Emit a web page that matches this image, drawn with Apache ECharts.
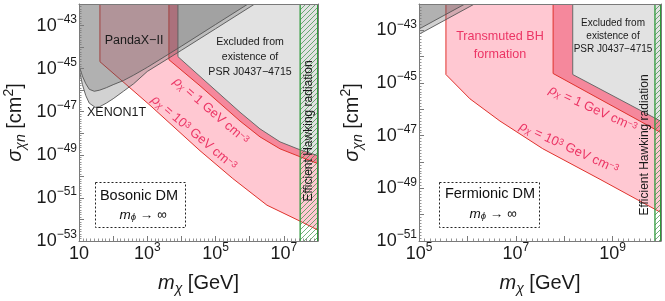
<!DOCTYPE html>
<html><head><meta charset="utf-8">
<script src="https://cdn.jsdelivr.net/npm/echarts@6/dist/echarts.min.js"></script>
<style>html,body{margin:0;padding:0;background:#fff}#c{width:665px;height:301px}</style>
</head><body><div id="c"></div>
<script>
// ---------------- data (mass in GeV, cross-section in cm^2) ----------------
const sigmaTop = 1e-42;
const bosonicMassRange = [10, 1e8];
const bosonicSigmaRange = [1e-53, 1e-42];
const fermionicMassRange = [1e5, 1e10];
const fermionicSigmaRange = [1e-51, 1e-42];

const xenonMass  = [10, 12.6, 15.8, 20, 30, 40, 63, 100, 200, 400, 1000, 1e4, 1e5, 1.4e6];
const xenonSigma = [1.0e-45, 1.8e-46, 5.6e-47, 2.5e-47, 1.6e-47, 1.7e-47, 2.5e-47, 4.0e-47, 8.9e-47, 2.0e-46, 7.4e-46, 7.1e-45, 7.1e-44, 1.0e-42];
const pandaxMass  = [10, 12.6, 15.8, 20, 28, 40, 63, 100, 200, 400, 1000, 1e4, 1e5, 8.9e5];
const pandaxSigma = [1.4e-45, 4.5e-46, 2.0e-46, 1.1e-46, 8.9e-47, 1.0e-46, 1.3e-46, 1.8e-46, 2.8e-46, 5.0e-46, 1.15e-45, 1.1e-44, 1.12e-43, 1.0e-42];

// Bosonic DM
const bosRho1e3Mass  = [41, 41, 1.2e3, 3.5e4, 3.2e5, 3.2e6, 3.0e7, 1e8];
const bosRho1e3Sigma = [1e-42, 2.1e-45, 2.0e-47, 1.55e-49, 7.9e-51, 4.6e-52, 8.3e-53, 3.2e-53];
const bosRho1Mass    = [4.3e3, 4.3e3, 3.5e4, 5.2e5, 2.0e6, 7.7e6, 3.0e7, 1e8];
const bosRho1Sigma   = [1e-42, 2.6e-45, 1.6e-46, 3.7e-48, 6.8e-49, 1.9e-49, 8.1e-50, 3.9e-50];
const bosPsrMass     = [7.9e3, 7.9e3, 5.2e5, 2.0e6, 7.7e6, 3.0e7, 1e8];
const bosPsrSigma    = [1e-42, 3.6e-45, 9.5e-48, 1.6e-48, 4.0e-49, 1.7e-49, 9.1e-50];
const bosHawkingMass = 3.0e7;

// Fermionic DM
const ferRho1e3Mass  = [3.6e5, 3.6e5, 1.13e6, 4.7e6, 3.6e7, 5.5e8, 1e10];
const ferRho1e3Sigma = [1e-42, 2.1e-45, 2.5e-46, 3.6e-47, 3.2e-48, 2.2e-49, 1.2e-50];
const ferRho1Mass    = [5.9e7, 5.9e7, 1e10];
const ferRho1Sigma   = [1e-42, 2.3e-45, 1.3e-47];
const ferPsrMass     = [1.5e8, 1.5e8, 1e10];
const ferPsrSigma    = [1e-42, 2.1e-45, 3.5e-47];
const ferHawkingMass = 7.5e9;

// ---------------- helpers ----------------
const L = Math.log10;
const FF = '"Liberation Sans", Arial, sans-serif';
const pts = (ms, ss) => ms.map((m, i) => [L(m), L(ss[i])]);

const PINK_L = '#ffc8d2', PINK_D = '#f5889c', RED = '#e0322c', PSR = '#e2e2e2';
const GRAYFILL = 'rgba(90,90,90,0.27)', GRAYLINE = '#555';
const TXTPINK = '#ec3565';

function region(axis, poly, edge, fill, stroke, lw, z) {
  return {
    type: 'custom', xAxisIndex: axis, yAxisIndex: axis, clip: true, silent: true, z: z,
    data: [[0, 0]],
    renderItem: function (params, api) {
      const P = poly.map(p => api.coord(p));
      const ch = [{ type: 'polygon', shape: { points: P }, style: { fill: fill } }];
      if (edge) {
        ch.push({ type: 'polyline', shape: { points: edge.map(p => api.coord(p)) },
                  style: { fill: 'none', stroke: stroke, lineWidth: lw } });
      }
      return { type: 'group', children: ch };
    }
  };
}
function withTopClose(ms, ss) {
  const b = pts(ms, ss);
  return { poly: b.concat([[L(ms[ms.length - 1]), L(sigmaTop)]]), edge: b };
}
function leftClose(ms, ss, xmin) {
  const b = pts(ms, ss);
  return { poly: b.concat([[L(xmin), L(sigmaTop)]]), edge: b };
}

// hatch pattern
const pc = document.createElement('canvas'); pc.width = 5; pc.height = 5;
const g = pc.getContext('2d');
g.strokeStyle = 'rgba(45,140,60,0.85)'; g.lineWidth = 0.8;
g.beginPath(); g.moveTo(0, 5); g.lineTo(5, 0); g.moveTo(-1, 1); g.lineTo(1, -1); g.moveTo(4, 6); g.lineTo(6, 4); g.stroke();
const hatchFill = { image: pc, repeat: 'repeat' };

function hawking(axis, m, xr, yr) {
  return {
    type: 'custom', xAxisIndex: axis, yAxisIndex: axis, clip: true, silent: true, z: 8,
    data: [[0, 0]],
    renderItem: function (params, api) {
      const a = api.coord([L(m), L(yr[1])]), b = api.coord([L(xr[1]), L(yr[0])]);
      return { type: 'group', children: [
        { type: 'rect', shape: { x: a[0], y: a[1], width: b[0] - a[0], height: b[1] - a[1] },
          style: { fill: hatchFill } },
        { type: 'line', shape: { x1: a[0], y1: a[1], x2: a[0], y2: b[1] },
          style: { stroke: '#2f9a3a', lineWidth: 1.3 } },
        { type: 'line', shape: { x1: b[0] - 0.5, y1: a[1], x2: b[0] - 0.5, y2: b[1] },
          style: { stroke: '#2f9a3a', lineWidth: 1 } }
      ] };
    }
  };
}

// ---------------- axes ----------------
const AX = '#7a7a7a';
const tickRich = {
  b: { fontSize: 18, lineHeight: 24, fontFamily: FF, color: '#1a1a1a' },
  s: { fontSize: 12, lineHeight: 12, verticalAlign: 'top', fontFamily: FF, color: '#1a1a1a' }
};
function tickFmt(v) {
  const n = Math.round(v);
  if (Math.abs(v - n) > 1e-6 || n % 2 === 0) return '';
  if (n === 1) return '{b|10}';
  return '{b|10}{s|' + (n < 0 ? '\u2212' + (-n) : n) + '}';
}
const nameRich = {
  n: { fontSize: 20, lineHeight: 26, fontFamily: FF, color: '#1a1a1a' },
  i: { fontSize: 20, lineHeight: 26, fontFamily: FF, fontStyle: 'italic', color: '#1a1a1a' },
  sub: { fontSize: 14, lineHeight: 14, verticalAlign: 'bottom', fontFamily: FF, fontStyle: 'italic', color: '#1a1a1a' },
  sup: { fontSize: 14, lineHeight: 14, verticalAlign: 'top', fontFamily: FF, color: '#1a1a1a' }
};
function mainAxis(grid, range, pos, name, gap) {
  return {
    gridIndex: grid, type: 'value', min: L(range[0]), max: L(range[1]), interval: 1, position: pos, z: 10,
    axisLine: { show: true, onZero: false, lineStyle: { color: AX, width: 1 } },
    axisTick: { show: true, inside: true, length: 5, lineStyle: { color: AX, width: 1 } },
    minorTick: { show: true, splitNumber: 9, length: 2.5, lineStyle: { color: AX, width: 0.8 } },
    splitLine: { show: false },
    axisLabel: { interval: 0, margin: pos === 'left' ? 2 : 1, formatter: tickFmt, rich: tickRich, hideOverlap: false,
                 showMinLabel: true, showMaxLabel: true },
    name: name, nameLocation: 'middle', nameGap: gap,
    nameTextStyle: { rich: nameRich }
  };
}
function frameAxis(grid, range, pos) {
  return {
    gridIndex: grid, type: 'value', min: L(range[0]), max: L(range[1]), position: pos, z: 10,
    axisLine: { show: true, onZero: false, lineStyle: { color: AX, width: 1 } },
    axisTick: { show: false }, axisLabel: { show: false }, splitLine: { show: false }
  };
}
const xName = '{i|m}{sub|\u03c7}{n| [GeV]}';
const yName = '{i|\u03c3}{sub|\u03c7n}{n| [cm}{sup|2}{n|]}';

// ---------------- regions ----------------
const xen = leftClose(xenonMass, xenonSigma, bosonicMassRange[0]);
const pan = leftClose(pandaxMass, pandaxSigma, bosonicMassRange[0]);
const bR3 = withTopClose(bosRho1e3Mass, bosRho1e3Sigma);
const bR1 = withTopClose(bosRho1Mass, bosRho1Sigma);
const bPs = withTopClose(bosPsrMass, bosPsrSigma);
const fR3 = withTopClose(ferRho1e3Mass, ferRho1e3Sigma);
const fR1 = withTopClose(ferRho1Mass, ferRho1Sigma);
const fPs = withTopClose(ferPsrMass, ferPsrSigma);

const series = [
  region(0, bR3.poly, bR3.edge, PINK_L, RED, 1, 2),
  region(0, bR1.poly, bR1.edge, PINK_D, RED, 1, 3),
  region(0, bPs.poly, bPs.edge, PSR, '#6a6a6a', 1, 4),
  region(0, xen.poly, xen.edge, GRAYFILL, GRAYLINE, 0.9, 5),
  region(0, pan.poly, pan.edge, GRAYFILL, GRAYLINE, 0.9, 6),
  hawking(0, bosHawkingMass, bosonicMassRange, bosonicSigmaRange),
  region(2, fR3.poly, fR3.edge, PINK_L, RED, 1, 2),
  region(2, fR1.poly, fR1.edge, PINK_D, RED, 1, 3),
  region(2, fPs.poly, fPs.edge, PSR, '#6a6a6a', 1, 4),
  region(2, xen.poly, xen.edge, GRAYFILL, GRAYLINE, 0.9, 5),
  region(2, pan.poly, pan.edge, GRAYFILL, GRAYLINE, 0.9, 6),
  hawking(2, ferHawkingMass, fermionicMassRange, fermionicSigmaRange)
];

// ---------------- annotations ----------------
const rhoRich = {
  n: { fontSize: 13, fontFamily: FF, fill: TXTPINK },
  i: { fontSize: 13, fontFamily: FF, fontStyle: 'italic', fill: TXTPINK },
  sub: { fontSize: 9, lineHeight: 9, verticalAlign: 'bottom', fontFamily: FF, fontStyle: 'italic', fill: TXTPINK },
  sup: { fontSize: 9, lineHeight: 9, verticalAlign: 'top', fontFamily: FF, fill: TXTPINK }
};
const rho1Txt = '{i|\u03c1}{sub|\u03c7}{n| = 1 GeV cm}{sup|\u22123}';
const rho3Txt = '{i|\u03c1}{sub|\u03c7}{n| = 10}{sup|3}{n| GeV cm}{sup|\u22123}';
const boxRich = {
  n: { fontSize: 14.5, fontFamily: FF, fill: '#111' },
  m: { fontSize: 13.5, fontFamily: FF, fontStyle: 'italic', fill: '#111' },
  sub: { fontSize: 9.5, lineHeight: 9, verticalAlign: 'bottom', fontFamily: FF, fontStyle: 'italic', fill: '#111' },
  r: { fontSize: 13.5, fontFamily: FF, fill: '#111' }
};
function T(x, y, text, size, color, extra) {
  return Object.assign({ type: 'text', x: x, y: y, z: 20, silent: true,
    style: { text: text, fill: color || '#1a1a1a', font: size + 'px ' + FF, align: 'center', verticalAlign: 'middle' } }, extra || {});
}
function RT(x, y, text, rich, rot) {
  return { type: 'text', x: x, y: y, z: 20, silent: true, rotation: rot || 0,
    style: { text: text, rich: rich, align: 'center', verticalAlign: 'middle' } };
}
const deg = Math.PI / 180;
const graphic = [
  // left panel
  T(134, 41, 'PandaX\u2212II', 12.5),
  T(87, 113, 'XENON1T', 12.5, '#1a1a1a', { style: { text: 'XENON1T', fill: '#1a1a1a', font: '12.5px ' + FF, align: 'left', verticalAlign: 'middle' } }),
  T(250, 42, 'Excluded from', 10.6),
  T(250, 57, 'existence of', 10.6),
  T(250, 72, 'PSR J0437\u22124715', 10.6),
  RT(211, 111, rho1Txt, rhoRich, -41 * deg),
  RT(194, 133, rho3Txt, rhoRich, -40.5 * deg),
  { type: 'rect', z: 20, silent: true, shape: { x: 95.5, y: 182.5, width: 90, height: 45 },
    style: { fill: 'none', stroke: '#222', lineWidth: 1, lineDash: [2, 2] } },
  RT(139, 196, '{n|Bosonic DM}', boxRich),
  RT(143, 215, '{m|m}{sub|\u03d5}{r| \u2192 \u221e}', boxRich),
  T(309, 131, 'Efficient Hawking radiation', 12, '#1a1a1a', { rotation: Math.PI / 2 }),
  // right panel
  T(500, 37, 'Transmuted BH', 12.6, TXTPINK),
  T(500, 55, 'formation', 12.6, TXTPINK),
  T(613, 23, 'Excluded from', 10),
  T(613, 36, 'existence of', 10),
  T(613, 49, 'PSR J0437\u22124715', 10),
  RT(593, 109, rho1Txt, rhoRich, -24.5 * deg),
  RT(569, 148, rho3Txt, rhoRich, -24.7 * deg),
  { type: 'rect', z: 20, silent: true, shape: { x: 439.5, y: 182.5, width: 100, height: 45 },
    style: { fill: 'none', stroke: '#222', lineWidth: 1, lineDash: [2, 2] } },
  RT(490, 194, '{n|Fermionic DM}', boxRich),
  RT(493, 214, '{m|m}{sub|\u03d5}{r| \u2192 \u221e}', boxRich),
  T(645, 145, 'Efficient Hawking radiation', 12, '#1a1a1a', { rotation: Math.PI / 2 })
];

const option = {
  animation: false,
  backgroundColor: '#fff',
  textStyle: { fontFamily: FF },
  grid: [
    { left: 79, top: 4, width: 239, height: 239 },
    { left: 419, top: 4, width: 242, height: 239 }
  ],
  xAxis: [
    mainAxis(0, bosonicMassRange, 'bottom', xName, 29),
    frameAxis(0, bosonicMassRange, 'top'),
    mainAxis(1, fermionicMassRange, 'bottom', xName, 29),
    frameAxis(1, fermionicMassRange, 'top')
  ],
  yAxis: [
    mainAxis(0, bosonicSigmaRange, 'left', yName, 51),
    frameAxis(0, bosonicSigmaRange, 'right'),
    mainAxis(1, fermionicSigmaRange, 'left', yName, 54),
    frameAxis(1, fermionicSigmaRange, 'right')
  ],
  series: series,
  graphic: graphic
};
const chart = echarts.init(document.getElementById('c'));
chart.setOption(option);
</script></body></html>
